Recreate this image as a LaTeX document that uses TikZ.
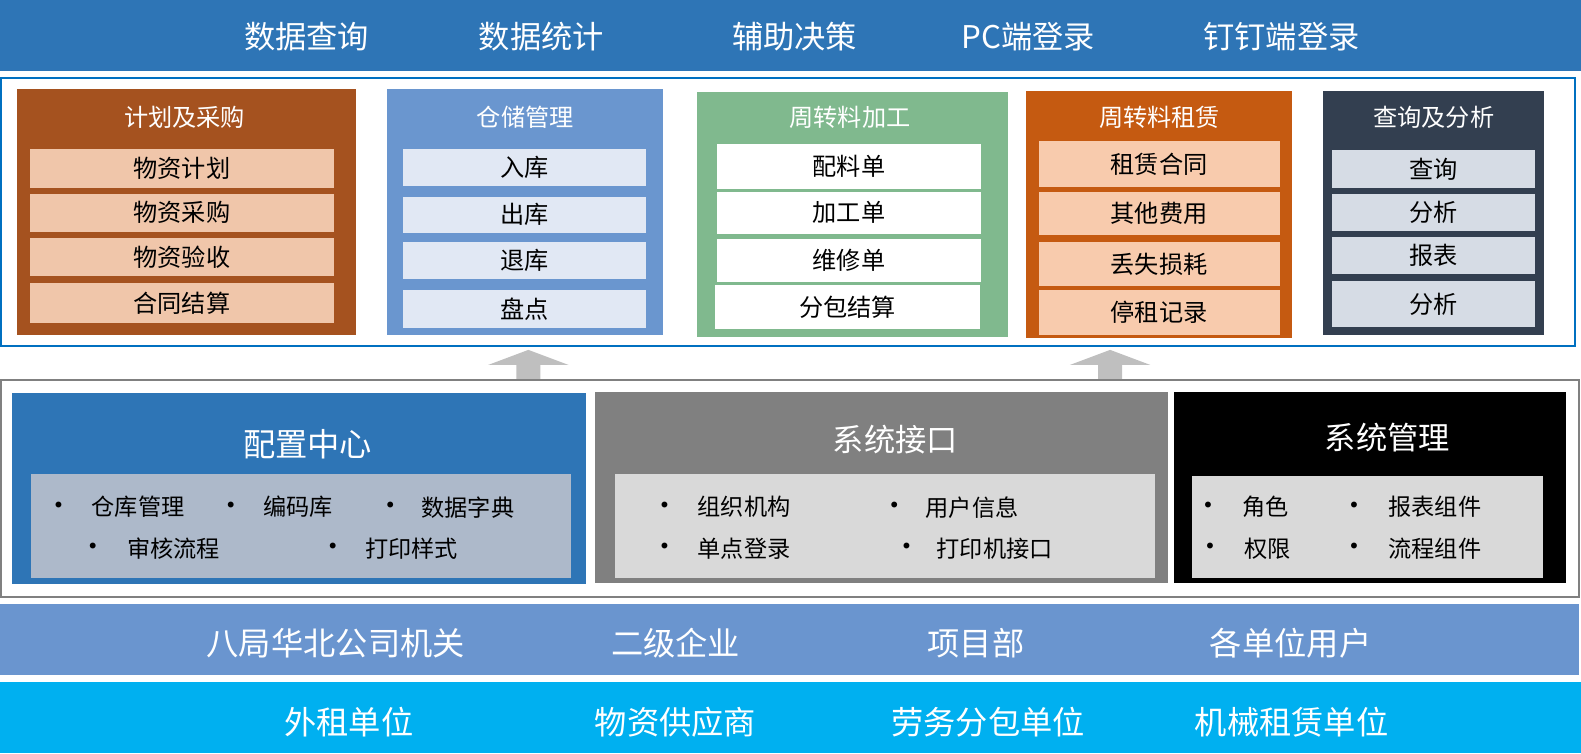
\documentclass[tikz,border=0pt]{standalone}
\usepackage{fontspec}
\newfontfamily\cjk{Noto Sans CJK SC}
\newfontfamily\dejavu{DejaVu Sans}
\definecolor{topblue}{HTML}{2E75B6}
\definecolor{frameblue}{HTML}{0070C0}
\definecolor{brownm}{HTML}{A5521F}
\definecolor{peachA}{HTML}{F0C6AA}
\definecolor{bluem}{HTML}{6A96CF}
\definecolor{bluelt}{HTML}{E1E8F4}
\definecolor{greenm}{HTML}{80B98E}
\definecolor{orangem}{HTML}{C55A11}
\definecolor{peachB}{HTML}{F8CBAD}
\definecolor{darkm}{HTML}{333F50}
\definecolor{greylt}{HTML}{D6DCE5}
\definecolor{arrowgray}{HTML}{BFBFBF}
\definecolor{framegray}{HTML}{808080}
\definecolor{cfginner}{HTML}{ADB9CA}
\definecolor{ifgray}{HTML}{808080}
\definecolor{lightgray2}{HTML}{D9D9D9}
\definecolor{bar3}{HTML}{6A95CF}
\definecolor{bar4}{HTML}{00B0F0}
\newcommand\rbox[7]{\node[#6, minimum width={(#4-#2)*0.5pt}, minimum height={(#5-#3)*0.5pt}] (#1) at ({(#2+#4)/2},{(#3+#5)/2}) {#7};}
\begin{document}
\begin{tikzpicture}[x=0.5pt,y=-0.5pt,
  every node/.style={inner sep=0pt, outer sep=0pt, font=\cjk},
  bigtext/.style={text=white, font=\cjk\fontsize{15.5pt}{17pt}\selectfont},
  midtitle/.style={text=white, font=\cjk\fontsize{15.5pt}{17pt}\selectfont},
  modtitle/.style={text=white, font=\cjk\fontsize{12pt}{14pt}\selectfont},
  itemtext/.style={text=black, font=\cjk\fontsize{12pt}{14pt}\selectfont},
  bultext/.style={text=black, anchor=west, font=\cjk\fontsize{11.5pt}{14pt}\selectfont},
  bulmark/.style={text=black, font=\dejavu\fontsize{10pt}{12pt}\selectfont},
]
\useasboundingbox (0,0) rectangle (1568,747);

% top bar
\rbox{topbar}{0}{0}{1568}{70}{fill=topblue}{}
\node[bigtext] (t1) at (304,36) {数据查询};
\node[bigtext] (t2) at (537,36) {数据统计};
\node[bigtext] (t3) at (788,36) {辅助决策};
\node[bigtext] (t4) at (1020,36) {PC端登录};
\node[bigtext] (t5) at (1271,36) {钉钉端登录};

% middle frame
\rbox{midframe}{1}{77}{1562}{343}{draw=frameblue, line width=1pt}{}

% module 1
\rbox{m1}{17}{88}{353}{332}{fill=brownm}{}
\node[modtitle] (m1t) at (183,116) {计划及采购};
\rbox{m1a}{30}{148}{331}{186}{fill=peachA, itemtext}{物资计划}
\rbox{m1b}{30}{192}{331}{230}{fill=peachA, itemtext}{物资采购}
\rbox{m1c}{30}{236}{331}{274}{fill=peachA, itemtext}{物资验收}
\rbox{m1d}{30}{281}{331}{320}{fill=peachA, itemtext}{合同结算}

% module 2
\rbox{m2}{384}{88}{658}{332}{fill=bluem}{}
\node[modtitle] (m2t) at (521,116) {仓储管理};
\rbox{m2a}{400}{148}{641}{184}{fill=bluelt, itemtext}{入库}
\rbox{m2b}{400}{195}{641}{231}{fill=bluelt, itemtext}{出库}
\rbox{m2c}{400}{240}{641}{277}{fill=bluelt, itemtext}{退库}
\rbox{m2d}{400}{288}{641}{325}{fill=bluelt, itemtext}{盘点}

% module 3
\rbox{m3}{691}{91}{1000}{334}{fill=greenm}{}
\node[modtitle] (m3t) at (843,116) {周转料加工};
\rbox{m3a}{711}{143}{973}{187}{fill=white, itemtext}{配料单}
\rbox{m3b}{711}{190}{973}{232}{fill=white, itemtext}{加工单}
\rbox{m3c}{711}{237}{973}{280}{fill=white, itemtext}{维修单}
\rbox{m3d}{709}{283}{972}{326}{fill=white, itemtext}{分包结算}

% module 4
\rbox{m4}{1018}{90}{1281}{335}{fill=orangem}{}
\node[modtitle] (m4t) at (1150,116) {周转料租赁};
\rbox{m4a}{1030}{140}{1269}{185}{fill=peachB, itemtext}{租赁合同}
\rbox{m4b}{1030}{190}{1269}{233}{fill=peachB, itemtext}{其他费用}
\rbox{m4c}{1030}{240}{1269}{284}{fill=peachB, itemtext}{丢失损耗}
\rbox{m4d}{1030}{288}{1269}{332}{fill=peachB, itemtext}{停租记录}

% module 5
\rbox{m5}{1312}{90}{1531}{332}{fill=darkm}{}
\node[modtitle] (m5t) at (1422,116) {查询及分析};
\rbox{m5a}{1321}{149}{1522}{186}{fill=greylt, itemtext}{查询}
\rbox{m5b}{1321}{192}{1522}{229}{fill=greylt, itemtext}{分析}
\rbox{m5c}{1321}{235}{1522}{272}{fill=greylt, itemtext}{报表}
\rbox{m5d}{1321}{279}{1522}{324}{fill=greylt, itemtext}{分析}

% up arrows
\foreach \cx in {524,1101}{
  \fill[arrowgray] (\cx,347) -- (\cx+40,362) -- (\cx+12,362) -- (\cx+12,377)
     -- (\cx-12,377) -- (\cx-12,362) -- (\cx-40,362) -- cycle;
}

% lower frame
\rbox{lowframe}{1}{377}{1566}{592}{draw=framegray, line width=1pt}{}

% config center
\rbox{cfg}{12}{390}{581}{579}{fill=topblue}{}
\node[midtitle, font=\cjk\fontsize{16pt}{18pt}\selectfont] (cfgt) at (305,441) {配置中心};
\rbox{cfgi}{31}{470}{566}{573}{fill=cfginner}{}
\node[bulmark] (cb1) at (58,503) {•};   \node[bultext] (c1) at (91,503) {仓库管理};
\node[bulmark] (cb2) at (229,503) {•};  \node[bultext] (c2) at (261,503) {编码库};
\node[bulmark] (cb3) at (387,503) {•};  \node[bultext] (c3) at (418,503) {数据字典};
\node[bulmark] (cb4) at (92,544) {•};   \node[bultext] (c4) at (126,544) {审核流程};
\node[bulmark] (cb5) at (330,544) {•};  \node[bultext] (c5) at (362,544) {打印样式};

% system interface
\rbox{sif}{590}{389}{1158}{578}{fill=ifgray}{}
\node[midtitle] (sift) at (888,436) {系统接口};
\rbox{sifi}{610}{470}{1145}{573}{fill=lightgray2}{}
\node[bulmark] (sb1) at (659,503) {•};  \node[bultext] (s1) at (692,503) {组织机构};
\node[bulmark] (sb2) at (887,503) {•};  \node[bultext] (s2) at (918,503) {用户信息};
\node[bulmark] (sb3) at (659,544) {•};  \node[bultext] (s3) at (692,544) {单点登录};
\node[bulmark] (sb4) at (899,544) {•};  \node[bultext] (s4) at (929,544) {打印机接口};

% system management
\rbox{smg}{1164}{389}{1553}{578}{fill=black}{}
\node[midtitle] (smgt) at (1376,434) {系统管理};
\rbox{smgi}{1182}{472}{1530}{573}{fill=lightgray2}{}
\node[bulmark] (mb1) at (1198,503) {•};  \node[bultext] (g1) at (1232,503) {角色};
\node[bulmark] (mb2) at (1343,503) {•};  \node[bultext] (g2) at (1377,503) {报表组件};
\node[bulmark] (mb3) at (1200,544) {•};  \node[bultext] (g3) at (1234,544) {权限};
\node[bulmark] (mb4) at (1343,544) {•};  \node[bultext] (g4) at (1377,544) {流程组件};

% user bar
\rbox{ubar}{0}{599}{1566}{669}{fill=bar3}{}
\node[bigtext, font=\cjk\fontsize{16pt}{18pt}\selectfont] (u1) at (333,638) {八局华北公司机关};
\node[bigtext, font=\cjk\fontsize{16pt}{18pt}\selectfont] (u2) at (670,638) {二级企业};
\node[bigtext, font=\cjk\fontsize{16pt}{18pt}\selectfont] (u3) at (968,638) {项目部};
\node[bigtext, font=\cjk\fontsize{16pt}{18pt}\selectfont] (u4) at (1280,638) {各单位用户};

% external bar
\rbox{ebar}{0}{676}{1568}{747}{fill=bar4}{}
\node[bigtext, font=\cjk\fontsize{16pt}{18pt}\selectfont] (e1) at (346,716) {外租单位};
\node[bigtext, font=\cjk\fontsize{16pt}{18pt}\selectfont] (e2) at (670,716) {物资供应商};
\node[bigtext, font=\cjk\fontsize{16pt}{18pt}\selectfont] (e3) at (980,716) {劳务分包单位};
\node[bigtext, font=\cjk\fontsize{16pt}{18pt}\selectfont] (e4) at (1281,716) {机械租赁单位};
\end{tikzpicture}
\end{document}
